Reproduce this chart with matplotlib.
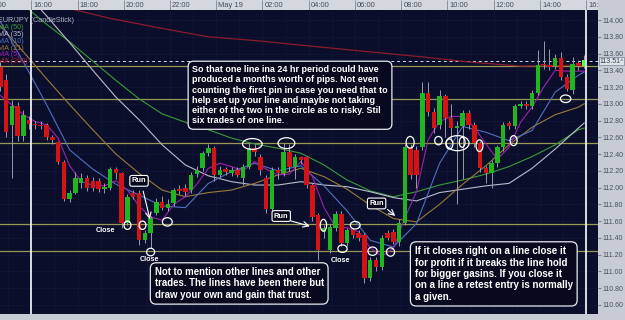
import matplotlib.pyplot as plt
import matplotlib.transforms as mtransforms
from matplotlib.patches import Ellipse

plt.rcParams['font.family'] = ['Liberation Sans', 'DejaVu Sans']

# 15 minute candles, index 0 = first visible candle
opens = [113.44, 113.28, 112.75, 112.97, 112.62, 112.81, 112.76, 112.75, 112.75, 112.60,
         112.54, 112.31, 111.86, 111.94, 112.05, 112.11, 112.08, 112.08, 111.98, 111.99,
         112.22, 112.17, 111.58, 111.94, 111.94, 111.37, 111.46, 111.70, 111.83, 111.76,
         111.82, 111.98, 111.99, 111.97, 112.16, 112.23, 112.41, 112.47, 112.15, 112.22,
         112.17, 112.21, 112.11, 112.25, 112.47, 112.36, 112.11, 111.74, 112.21, 112.17,
         112.42, 112.25, 112.36, 112.36, 112.03, 111.67, 111.47, 111.26, 111.52, 111.68,
         111.34, 111.49, 111.46, 111.43, 110.92, 111.14, 111.05, 111.46, 111.47, 111.35,
         111.58, 112.48, 112.45, 112.48, 113.13, 112.90, 112.75, 113.09, 112.83, 112.71,
         112.73, 112.89, 112.75, 112.53, 112.23, 112.17, 112.29, 112.48, 112.77, 112.73,
         112.97, 113.00, 112.97, 113.13, 113.46, 113.46, 113.45, 113.55, 113.32, 113.16,
         113.49, 113.45]
highs = [113.50, 113.35, 113.05, 113.02, 112.92, 112.86, 112.80, 112.79, 112.77, 112.63,
         112.56, 112.33, 111.97, 112.19, 112.17, 112.15, 112.13, 112.11, 112.06, 112.25,
         112.24, 112.19, 111.92, 111.97, 111.97, 111.49, 111.66, 111.88, 111.90, 111.86,
         112.00, 112.03, 112.04, 112.18, 112.26, 112.44, 112.52, 112.50, 112.26, 112.25,
         112.24, 112.24, 112.28, 112.53, 112.52, 112.40, 112.15, 112.25, 112.25, 112.53,
         112.52, 112.40, 112.38, 112.38, 112.05, 111.70, 111.55, 111.56, 111.72, 111.72,
         111.52, 111.52, 111.49, 111.46, 111.17, 111.17, 111.43, 111.49, 111.50, 111.62,
         112.52, 112.52, 112.50, 113.26, 113.26, 112.95, 113.16, 113.12, 113.00, 112.80,
         112.93, 112.92, 112.78, 112.56, 112.26, 112.33, 112.51, 112.78, 112.80, 113.00,
         113.03, 113.03, 113.16, 113.64, 113.75, 113.66, 113.60, 113.62, 113.35, 113.56,
         113.52, 113.58]
lows = [113.15, 112.60, 112.11, 112.55, 112.55, 112.70, 112.70, 112.70, 112.57, 112.52,
        112.28, 111.84, 111.83, 111.92, 112.00, 111.96, 111.96, 111.95, 111.94, 111.97,
        112.10, 111.52, 111.55, 111.86, 111.31, 111.34, 111.28, 111.67, 111.73, 111.72,
        111.78, 111.92, 111.90, 111.94, 112.12, 112.20, 112.38, 112.08, 112.12, 112.15,
        112.14, 112.12, 112.03, 112.22, 112.38, 112.15, 111.70, 111.70, 112.10, 112.14,
        112.20, 112.10, 112.28, 111.99, 111.60, 111.14, 111.40, 111.22, 111.48, 111.30,
        111.30, 111.40, 111.36, 110.86, 110.88, 111.00, 111.02, 111.37, 111.32, 111.30,
        111.55, 112.10, 112.00, 112.45, 112.85, 112.65, 112.70, 112.60, 112.55, 111.80,
        112.10, 112.70, 112.48, 112.18, 112.05, 112.00, 112.25, 112.44, 112.70, 112.70,
        112.95, 112.94, 112.94, 113.10, 113.42, 113.40, 113.42, 113.29, 113.15, 113.12,
        113.40, 113.43]
closes = [113.20, 112.66, 112.97, 112.62, 112.87, 112.76, 112.75, 112.74, 112.60, 112.57,
          112.31, 111.86, 111.94, 112.11, 112.11, 111.99, 111.99, 111.98, 112.01, 112.22,
          112.17, 111.58, 111.89, 111.89, 111.37, 111.46, 111.64, 111.83, 111.76, 111.80,
          111.97, 111.96, 111.95, 112.15, 112.21, 112.41, 112.47, 112.15, 112.21, 112.19,
          112.21, 112.15, 112.25, 112.47, 112.42, 112.21, 111.74, 112.21, 112.17, 112.42,
          112.25, 112.36, 112.33, 112.03, 111.65, 111.26, 111.52, 111.53, 111.68, 111.34,
          111.49, 111.43, 111.40, 110.92, 111.14, 111.05, 111.40, 111.40, 111.35, 111.58,
          112.48, 112.15, 112.15, 113.13, 112.90, 112.71, 113.09, 112.83, 112.71, 112.73,
          112.89, 112.75, 112.53, 112.23, 112.17, 112.29, 112.48, 112.75, 112.73, 112.97,
          113.00, 112.97, 113.13, 113.46, 113.45, 113.44, 113.55, 113.32, 113.18, 113.47,
          113.45, 113.52]

# moving averages
ma5_idx = list(range(0, 101, 2)) + [101]
ma5 = [113.10, 112.99, 112.87, 112.79, 112.75, 112.59, 112.26, 112.07, 112.03, 112.02,
       112.08, 111.97, 111.78, 111.65, 111.61, 111.80, 111.89, 112.04, 112.23, 112.29,
       112.25, 112.20, 112.31, 112.22, 112.15, 112.16, 112.31, 112.13, 111.76, 111.53,
       111.52, 111.47, 111.28, 111.18, 111.27, 111.64, 111.95, 112.57, 112.79, 112.85,
       112.85, 112.72, 112.52, 112.34, 112.48, 112.78, 112.96, 113.20, 113.40, 113.39,
       113.39, 113.39]
ma_idx = list(range(0, 101, 4)) + [101]
ma10 = [113.98, 113.50, 112.99, 112.45, 112.22, 112.04, 111.91, 111.78, 111.76, 112.05,
        112.19, 112.29, 112.20, 112.26, 112.02, 111.72, 111.37, 111.29, 111.57, 112.29,
        112.73, 112.66, 112.56, 112.68, 113.14, 113.34, 113.38]
ma21 = [113.93, 113.62, 113.30, 112.99, 112.69, 112.40, 112.17, 111.97, 111.89, 111.94,
        111.97, 112.05, 112.15, 112.23, 112.13, 111.98, 111.79, 111.63, 111.59, 111.80,
        112.04, 112.26, 112.51, 112.72, 112.87, 112.96, 113.00]
ma35 = [114.67, 114.36, 114.05, 113.73, 113.40, 113.08, 112.81, 112.51, 112.27, 112.14,
        112.07, 112.03, 112.03, 112.07, 112.03, 112.01, 111.95, 111.88, 111.84, 111.94,
        111.98, 112.02, 112.05, 112.23, 112.46, 112.71, 112.77]
ma50 = [114.41, 114.18, 113.95, 113.74, 113.51, 113.28, 113.06, 112.88, 112.78, 112.69,
        112.59, 112.52, 112.47, 112.41, 112.27, 112.09, 111.96, 111.89, 111.95, 112.03,
        112.09, 112.16, 112.25, 112.37, 112.51, 112.69, 112.71]
ma200_idx = [0, 10, 19, 28, 36, 45, 52, 61, 73, 81, 90, 101]
ma200 = [114.29, 114.17, 114.02, 113.90, 113.80, 113.75, 113.70, 113.64, 113.56, 113.50,
         113.45, 113.46]

levels = [113.45, 113.06, 112.53, 111.57, 111.24]
last_price = 113.51

time_pos = [5.36 + 8 * j for j in range(-1, 13)]
time_labels = ['14:00', '16:00', '18:00', '20:00', '22:00', 'May 19', '02:00', '04:00',
               '06:00', '08:00', '10:00', '12:00', '14:00', '16:00']
price_ticks = [110.6 + 0.2 * i for i in range(18)]

BG = '#0a0e2b'
GRID = '#1f2a58'
W, H = 625, 320

fig = plt.figure(figsize=(6.25, 3.2), dpi=100, facecolor='#c6cbd4')
ax = fig.add_axes([0, 6 / H, 598 / W, 304 / H])
ax.set_facecolor(BG)
ax.set_xlim(-0.05, 103.4)
ax.set_ylim(110.49, 114.12)

# grid
for p in price_ticks:
    ax.axhline(p, color=GRID, lw=0.5, ls=(0, (1, 2)), zorder=0)
for t in [5.36 + 4 * j for j in range(-2, 26)]:
    ax.axvline(t, color=GRID, lw=0.5, ls=(0, (1, 2)), zorder=0)

# support / resistance lines
for lv in levels:
    ax.axhline(lv, color='#9a9858', lw=0.9, zorder=1)
ax.axhline(last_price, color='#d8dce8', lw=0.7, ls=(0, (3, 3)), zorder=1)

# moving averages
ax.plot(ma200_idx, ma200, color='#8a1c2c', lw=0.9, zorder=2)
ax.plot(ma_idx, ma50, color='#3a9a3a', lw=0.8, zorder=2)
ax.plot(ma_idx, ma35, color='#b8bccc', lw=0.8, zorder=2)
ax.plot(ma_idx, ma21, color='#9a7a3a', lw=0.8, zorder=2)
ax.plot(ma_idx, ma10, color='#5070c0', lw=0.8, zorder=2)
ax.plot(ma5_idx, ma5, color='#a020b0', lw=0.8, zorder=2)

# candles
idx = list(range(len(opens)))
ax.vlines(idx, lows, highs, color='#9a9aa8', lw=0.7, zorder=3)
cols = ['#22b522' if c >= o else '#d41414' for o, c in zip(opens, closes)]
cols[-1] = '#4cff4c'
ax.bar(idx, [c - o if abs(c - o) > 0.01 else 0.015 for o, c in zip(opens, closes)],
       bottom=opens, width=0.78, color=cols, zorder=4)

# session separators
ax.axvline(time_pos[1], color='white', lw=1.2, zorder=5)
ax.axvline(time_pos[-1], color='white', lw=1.2, zorder=5)

# price axis
ax.yaxis.tick_right()
ax.set_yticks(price_ticks)
ax.set_yticklabels(['%.2f' % p for p in price_ticks])
ax.tick_params(axis='y', length=2, pad=1.5, labelsize=5.0, colors='#7c838e',
               labelcolor='#4a525e')
ax.tick_params(axis='x', bottom=False, labelbottom=False)
for s in ax.spines.values():
    s.set_visible(False)
ax.text(1.0025, last_price, '113.51\u2074',
        transform=mtransforms.blended_transform_factory(ax.transAxes, ax.transData),
        fontsize=5.0, color='#3a424e', va='center', ha='left', clip_on=False,
        bbox=dict(boxstyle='square,pad=0.12', fc='#dfe3ea', ec='#8890a0', lw=0.6))

# time strip
tax = fig.add_axes([0, 310 / H, 598 / W, 10 / H])
tax.set_facecolor('#d3d7de')
tax.set_xlim(ax.get_xlim())
tax.set_ylim(0, 1)
tax.set_xticks([])
tax.set_yticks([])
for s in tax.spines.values():
    s.set_visible(False)
tax.vlines(time_pos, 0, 1, color='#8a919c', lw=0.7)
for t, lab in zip(time_pos, time_labels):
    tax.text(t + 0.35, 0.45, lab, fontsize=5.4, color='#454c58', va='center', ha='left',
             clip_on=True)

# legend text
legend = [('EUR/JPY (CandleStick)', '#b4b8c4'), ('MA (50)', '#3a9a3a'),
          ('MA (35)', '#b8bccc'), ('MA (10)', '#5070c0'), ('MA (21)', '#9a7a3a'),
          ('MA (5)', '#a020b0'), ('MA (200)', '#b02030')]
for i, (lab, c) in enumerate(legend):
    ax.text(-0.45, 113.99 - i * 0.081, lab, fontsize=5.2, color=c, va='center', ha='left',
            clip_on=True, zorder=6)

# circles marking touches of the line
ovals = [(22.0, 111.55, 1.2, 0.10), (24.6, 111.55, 1.2, 0.10), (28.9, 111.59, 1.7, 0.10),
         (26.0, 111.23, 1.4, 0.09), (43.6, 112.52, 3.4, 0.13), (49.5, 112.53, 2.9, 0.13),
         (55.9, 111.55, 1.1, 0.14), (61.4, 111.55, 1.7, 0.09), (59.2, 111.27, 1.6, 0.09),
         (64.4, 111.24, 1.6, 0.10), (67.5, 111.23, 1.4, 0.10), (70.9, 112.54, 1.4, 0.14),
         (75.8, 112.56, 1.3, 0.10), (77.7, 112.52, 1.2, 0.12), (79.1, 112.53, 4.0, 0.18),
         (79.9, 112.54, 1.0, 0.12), (82.9, 112.50, 1.2, 0.14), (88.8, 112.56, 1.2, 0.12),
         (97.8, 113.06, 1.8, 0.09)]
for x, y, w, h in ovals:
    ax.add_patch(Ellipse((x, y), w, h, fill=False, ec='white', lw=0.9, zorder=7))

run_box = dict(boxstyle='round,pad=0.25', fc='#05071a', ec='white', lw=0.8)
for (tx, ty), (ax0, ay0), (ax1, ay1) in [((24.0, 112.08), (24.6, 111.99), (26.0, 111.59)),
                                         ((48.6, 111.66), (49.8, 111.61), (54.0, 111.53)),
                                         ((65.1, 111.81), (66.6, 111.76), (68.7, 111.64))]:
    ax.text(tx, ty, 'Run', fontsize=5.4, color='white', weight='bold', ha='center',
            va='center', bbox=run_box, zorder=8)
    ax.annotate('', xy=(ax1, ay1), xytext=(ax0, ay0),
                arrowprops=dict(arrowstyle='->', color='white', lw=0.8), zorder=8)

for x, y in [(18.2, 111.49), (25.8, 111.14), (58.8, 111.13)]:
    ax.text(x, y, 'Close', fontsize=5.2, color='white', weight='bold', ha='center',
            va='center', zorder=8)

note_box = dict(boxstyle='round,pad=0.45,rounding_size=0.6', fc='#070a1e', ec='#e8e8ee',
                lw=0.9)
notes = [
    (33.2, 113.46, 6.5, "So that one line ina 24 hr period could have\n"
                        "produced a months worth of pips. Not even\n"
                        "counting the first pin in case you need that to\n"
                        "help set up your line and maybe not taking\n"
                        "either of the two in the circle as to risky. Stil\n"
                        "six trades of one line."),
    (26.7, 111.05, 6.9, "Not to mention other lines and other\n"
                        "trades. The lines have been there but\n"
                        "draw your own and gain that trust."),
    (71.7, 111.30, 7.0, "If it closes right on a line close it\n"
                        "for profit if it breaks the line hold\n"
                        "for bigger gasins. If you close it\n"
                        "on a line a retest entry is normally\n"
                        "a given."),
]
for x, y, fs, s in notes:
    ax.text(x, y, s, fontsize=fs, color='white', weight='bold', ha='left', va='top',
            linespacing=1.17, bbox=note_box, zorder=9)

fig.savefig('out.png', dpi=100, facecolor=fig.get_facecolor())
